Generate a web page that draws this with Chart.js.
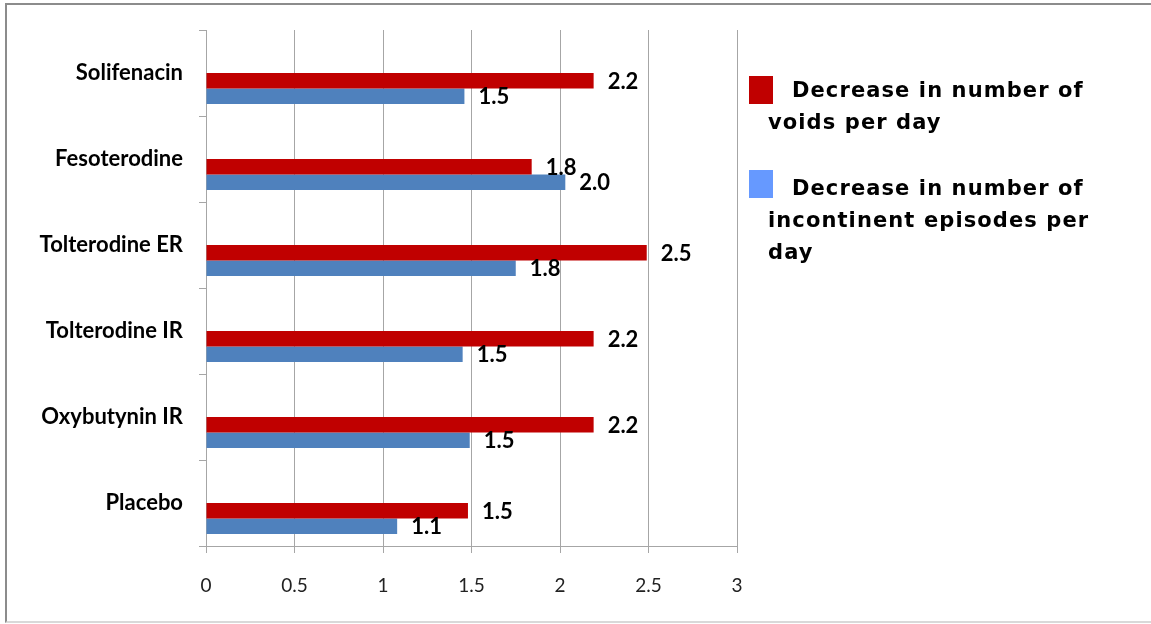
<!DOCTYPE html>
<html>
<head>
<meta charset="utf-8">
<script src="https://cdn.jsdelivr.net/npm/chart.js@4"></script>
<style>
  body { margin: 0; background: #fff; }
  #wrap { position: relative; width: 1151px; height: 624px; overflow: hidden; }
  #frame { position: absolute; left: 5px; top: 3px; width: 1160px; height: 616px;
           border-left: 2px solid #8c8c8c; border-top: 2px solid #8c8c8c; border-bottom: 2px solid #d9d9d9; }
  canvas { position: absolute; left: 0; top: 0; }
  .leg { position: absolute; left: 768px; width: 335px; font-family: "DejaVu Sans", sans-serif; font-weight: bold;
         font-size: 21px; letter-spacing: 1.1px; line-height: 32px; color: #000; text-indent: 24px; }
  .sw { position: absolute; left: 749px; width: 24px; height: 28px; }
</style>
</head>
<body>
<div id="wrap">
  <div id="frame"></div>
  <canvas id="myChart" width="1151" height="624"></canvas>
  <div class="sw" style="top:76px;background:#c00000"></div>
  <div class="leg" style="top:74px">Decrease in number of voids per day</div>
  <div class="sw" style="top:170px;background:#6699ff"></div>
  <div class="leg" style="top:172px">Decrease in number of incontinent episodes per day</div>
</div>
<script>
const drugs = ['Solifenacin', 'Fesoterodine', 'Tolterodine ER', 'Tolterodine IR', 'Oxybutynin IR', 'Placebo'];
const voids = [2.19, 1.84, 2.49, 2.19, 2.19, 1.48];
const episodes = [1.46, 2.03, 1.75, 1.45, 1.49, 1.08];
const voidsLabels = ['2.2', '1.8', '2.5', '2.2', '2.2', '1.5'];
const episodesLabels = ['1.5', '2.0', '1.8', '1.5', '1.5', '1.1'];
const xTicks = [0, 0.5, 1, 1.5, 2, 2.5, 3];
const xTickLabels = ['0', '0.5', '1', '1.5', '2', '2.5', '3'];

const gridColor = '#a6a6a6';

// empty series, they only keep the bars below the label as in the original
const spacer = drugs.map(() => null);

const valueLabels = {
  id: 'valueLabels',
  afterDatasetsDraw(chart) {
    const ctx = chart.ctx;
    ctx.save();
    ctx.font = 'bold 22px Lato';
    ctx.fillStyle = '#000';
    ctx.textBaseline = 'middle';
    ctx.textAlign = 'left';
    [[2, voidsLabels], [3, episodesLabels]].forEach(([di, labels]) => {
      chart.getDatasetMeta(di).data.forEach((bar, i) => {
        ctx.fillText(labels[i], bar.x + 14, bar.y + 1);
      });
    });
    ctx.restore();
  }
};

const ctx = document.getElementById('myChart').getContext('2d');
const myChart = new Chart(ctx, {
  type: 'bar',
  data: {
    labels: drugs,
    datasets: [
      { label: '', data: spacer },
      { label: '', data: spacer },
      { label: 'Decrease in number of voids per day', data: voids, backgroundColor: '#c00000' },
      { label: 'Decrease in number of incontinent episodes per day', data: episodes, backgroundColor: '#4f81bd' }
    ]
  },
  options: {
    indexAxis: 'y',
    responsive: false,
    animation: false,
    categoryPercentage: 0.72,
    barPercentage: 1,
    layout: { padding: { left: 7, top: 30, right: 414, bottom: 0 } },
    plugins: { legend: { display: false }, tooltip: { enabled: false } },
    scales: {
      x: {
        min: 0, max: 3,
        afterBuildTicks(scale) { scale.ticks = xTicks.map(v => ({ value: v })); },
        afterFit(scale) { scale.height = 78; },
        ticks: {
          font: { family: 'Lato', size: 19 }, color: '#222', padding: 21,
          callback: (v, i) => xTickLabels[i]
        },
        grid: { color: gridColor, tickLength: 7 },
        border: { color: gridColor }
      },
      y: {
        afterFit(scale) { scale.width = 199; },
        ticks: { font: { family: 'Lato', size: 22, weight: 'bold' }, color: '#000', padding: 16 },
        grid: { offset: true, drawOnChartArea: false, color: gridColor, tickLength: 7 },
        border: { color: gridColor }
      }
    }
  },
  plugins: [valueLabels]
});
</script>
</body>
</html>
